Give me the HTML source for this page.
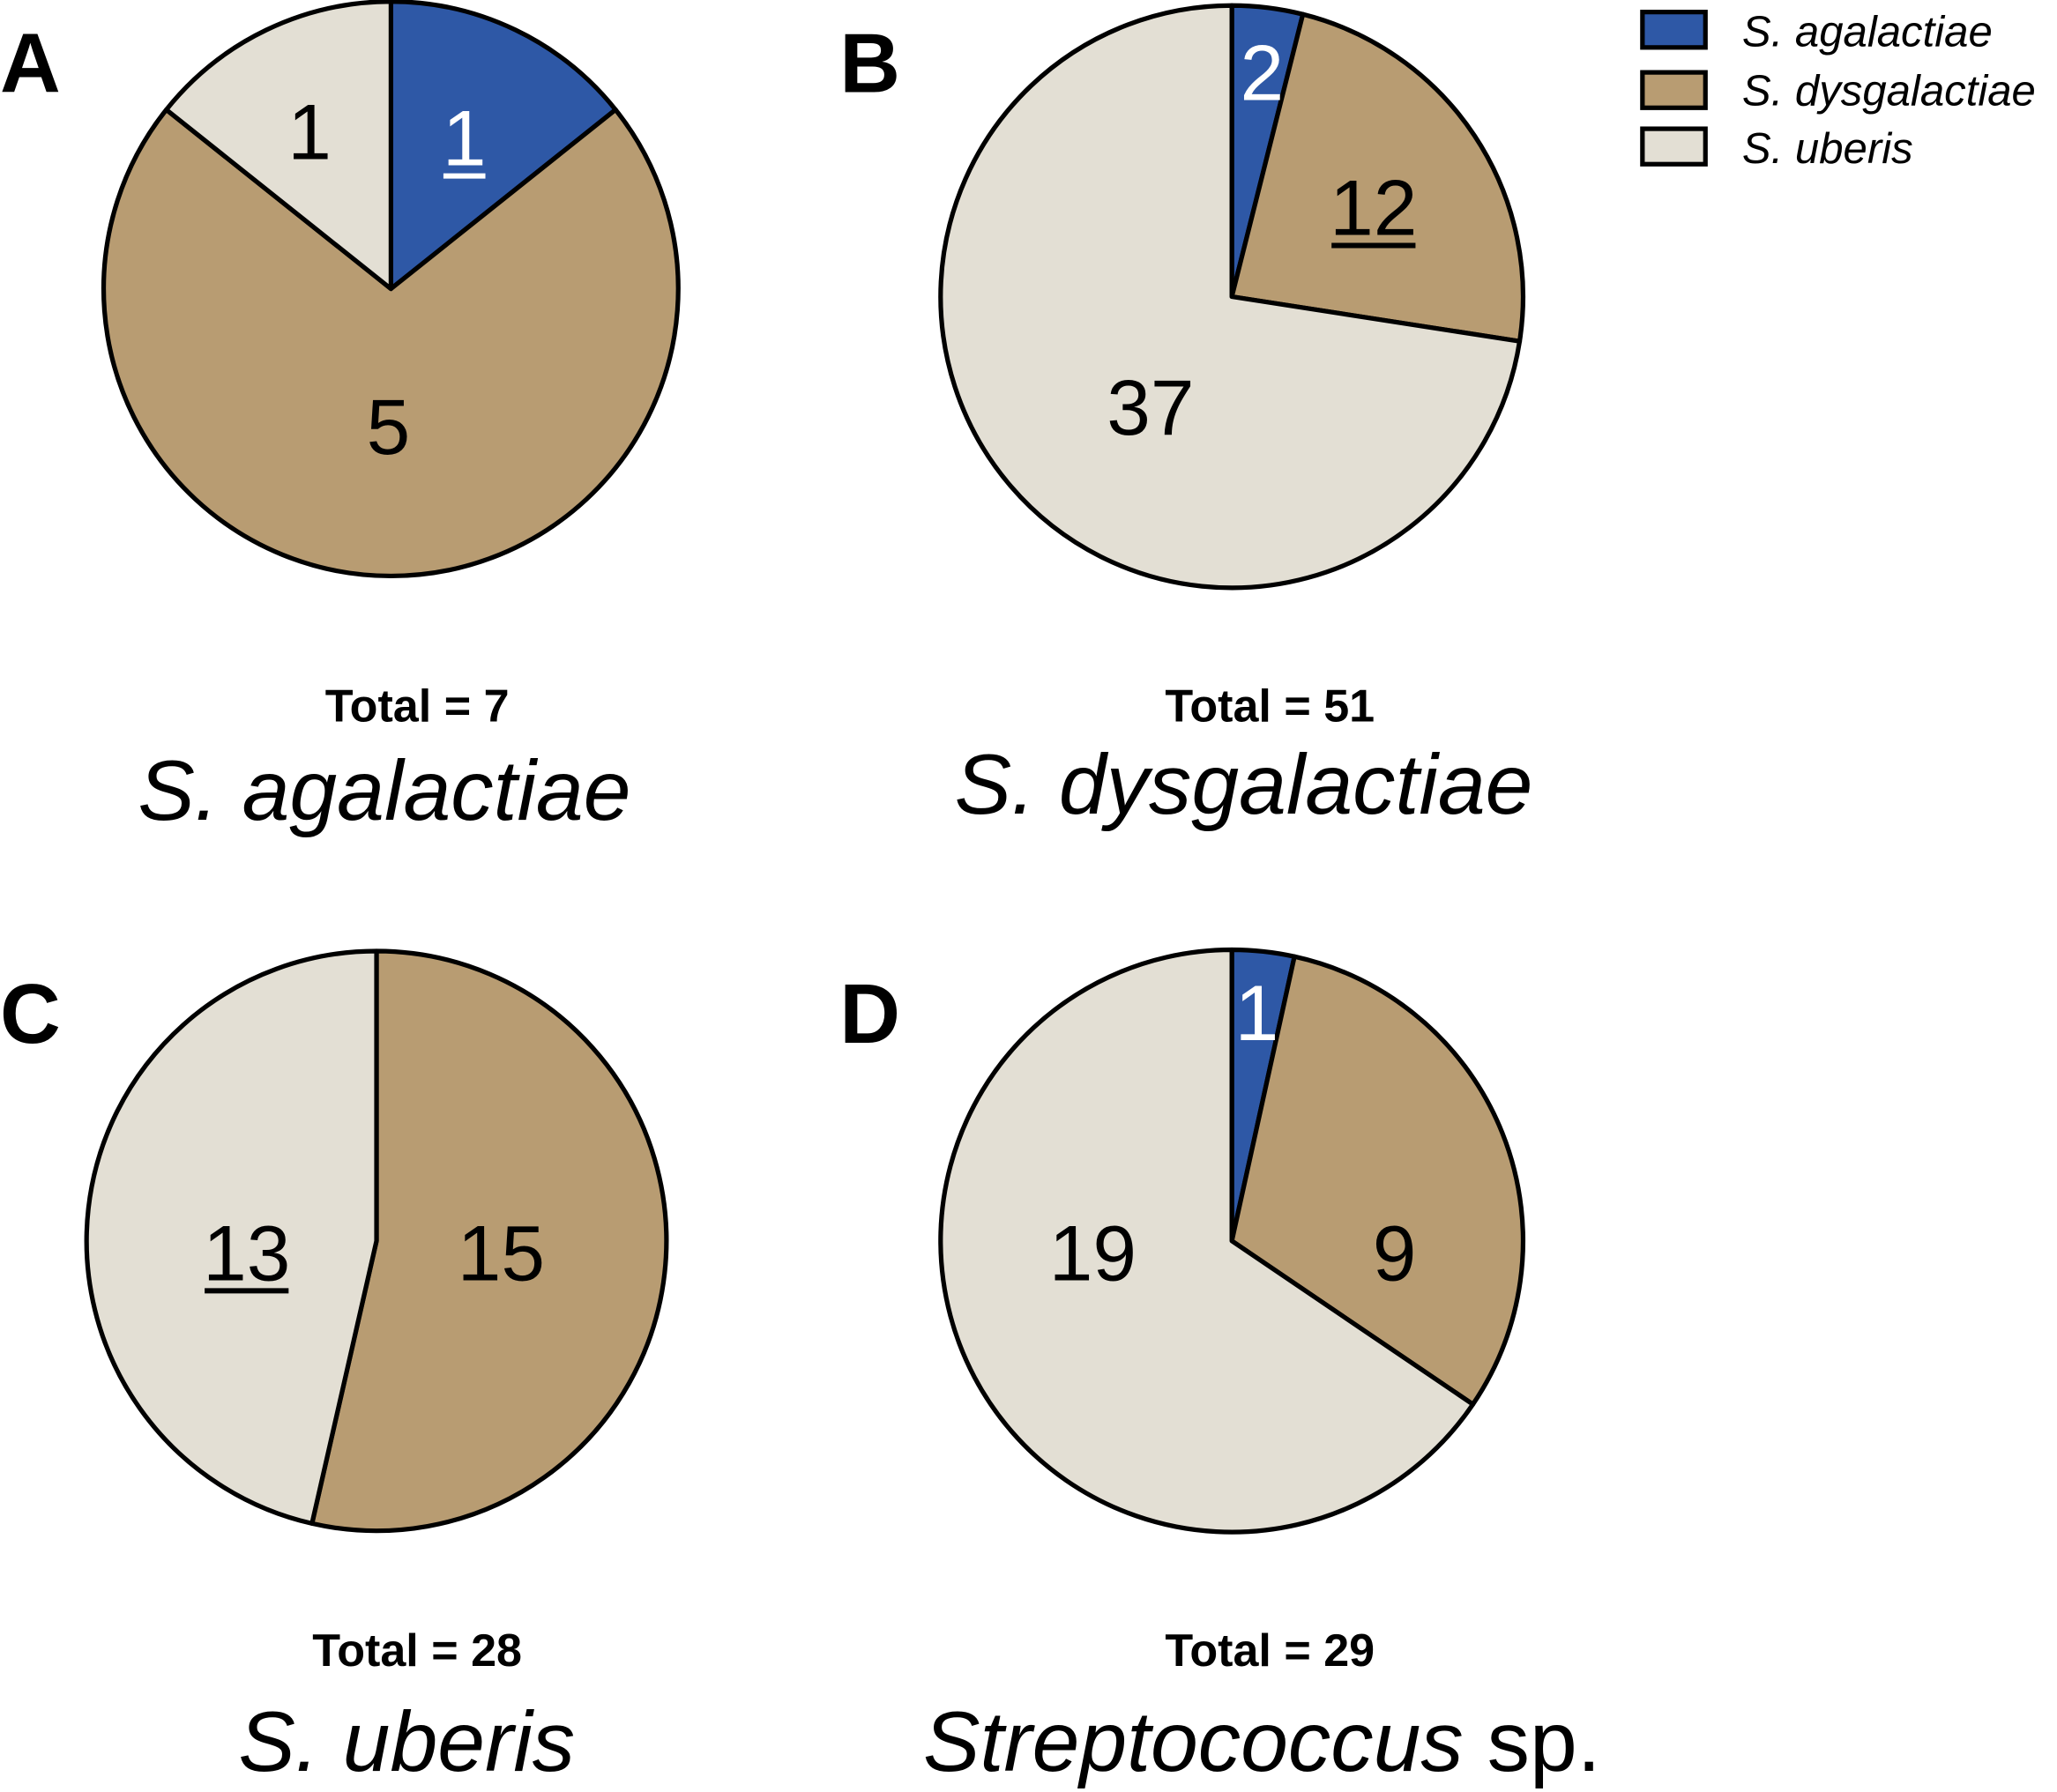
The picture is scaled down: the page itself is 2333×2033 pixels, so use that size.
<!DOCTYPE html>
<html><head><meta charset="utf-8"><style>html,body{margin:0;padding:0;background:#fff}svg{display:block}</style></head>
<body>
<svg id="fig" width="2333" height="2033" viewBox="0 0 1568 1366" xmlns="http://www.w3.org/2000/svg" font-family="Liberation Sans, Arial, sans-serif">
<rect width="1568" height="1366" fill="#fff"/>
<g id="pies"></g>
<g font-style="italic" font-size="33">
  <rect x="1252" y="9" width="48" height="27" fill="#2E58A6" stroke="#000" stroke-width="3.5"/>
  <text x="1328" y="35">S. agalactiae</text>
  <rect x="1252" y="55" width="48" height="27" fill="#B89C72" stroke="#000" stroke-width="3.5"/>
  <text x="1328" y="80">S. dysgalactiae</text>
  <rect x="1252" y="98" width="48" height="27" fill="#E3DFD4" stroke="#000" stroke-width="3.5"/>
  <text x="1328" y="124">S. uberis</text>
</g>
</svg>
<script>
const categories = ["S. agalactiae", "S. dysgalactiae", "S. uberis"];
const panelA = [1, 5, 1];
const panelB = [2, 12, 37];
const panelC = [0, 15, 13];
const panelD = [1, 9, 19];
const panelLetters = ["A", "B", "C", "D"];
const panelTitles = ["S. agalactiae", "S. dysgalactiae", "S. uberis", "Streptococcus"];
const underlined = [0, 1, 2, -1];

const colors = ["#2E58A6", "#B89C72", "#E3DFD4"];
const textColors = ["#fff", "#000", "#000"];
const NS = "http://www.w3.org/2000/svg";
const g = document.getElementById("pies");
const layout = [
  {cx:298, cy:220, r:219, lx:0, ly:70, tx:318, ty:550, sx:293, sy:625},
  {cx:939, cy:226, r:222, lx:640, ly:70, tx:968, ty:550, sx:948, sy:620},
  {cx:287, cy:946, r:221, lx:0, ly:795, tx:318, ty:1270, sx:310, sy:1350},
  {cx:939, cy:946, r:222, lx:640, ly:795, tx:968, ty:1270, sx:962, sy:1350}
];
const labelOffsets = [
  [[56,-115], [-2,105], [-62,-120]],
  [[23,-171], [108,-68], [-62,84]],
  [[0,0], [95,9], [-99,9]],
  [[19,-174], [124,9], [-106,9]]
];
const data = [panelA, panelB, panelC, panelD];

function mk(tag, attrs){ const e=document.createElementNS(NS,tag); for(const k in attrs) e.setAttribute(k,attrs[k]); return e; }
function pt(cx,cy,r,a){ return [cx + r*Math.sin(a), cy - r*Math.cos(a)]; }

data.forEach((vals, p) => {
  const L = layout[p];
  const total = vals.reduce((a,b)=>a+b,0);
  let start = 0;
  const labels = [];
  vals.forEach((v, i) => {
    if (v <= 0) return;
    const ang = v/total*2*Math.PI;
    const end = start + ang;
    const [x1,y1] = pt(L.cx,L.cy,L.r,start);
    const [x2,y2] = pt(L.cx,L.cy,L.r,end);
    const large = ang > Math.PI ? 1 : 0;
    const path = mk("path", {d:`M${L.cx},${L.cy} L${x1},${y1} A${L.r},${L.r} 0 ${large} 1 ${x2},${y2} Z`, fill:colors[i], stroke:"#000", "stroke-width":3.5, "stroke-linejoin":"round"});
    
    
    g.appendChild(path);
    labels.push({lx: L.cx + labelOffsets[p][i][0], ly: L.cy + labelOffsets[p][i][1], v, i});
    start = end;
  });
  labels.forEach(o => {
    const t = mk("text", {x:o.lx, y:o.ly+21, "text-anchor":"middle", "font-size":60, fill:textColors[o.i]});
    
    
    t.textContent = o.v;
    g.appendChild(t);
    if (underlined[p] === o.i) {
      const w = String(o.v).length*32;
      const u = mk("line", {x1:o.lx-w/2, x2:o.lx+w/2, y1:o.ly+29, y2:o.ly+29, stroke:textColors[o.i], "stroke-width":4});
      
      
      g.appendChild(u);
    }
  });
  const letter = mk("text", {x:L.lx, y:L.ly, "font-size":64, "font-weight":"bold"});
  
  
  letter.textContent = panelLetters[p];
  g.appendChild(letter);
  const tot = mk("text", {x:L.tx, y:L.ty, "font-size":35, "font-weight":"bold", "text-anchor":"middle"});
  
  
  tot.textContent = "Total = " + total;
  g.appendChild(tot);
  const st = mk("text", {x:L.sx, y:L.sy, "font-size":65, "text-anchor":"middle"});
  
  
  const ts = mk("tspan", {"font-style":"italic"});
  ts.textContent = panelTitles[p];
  st.appendChild(ts);
  if (p === 3) { const t2 = mk("tspan", {}); t2.textContent = " sp."; st.appendChild(t2); }
  g.appendChild(st);
});
</script>
</body></html>
